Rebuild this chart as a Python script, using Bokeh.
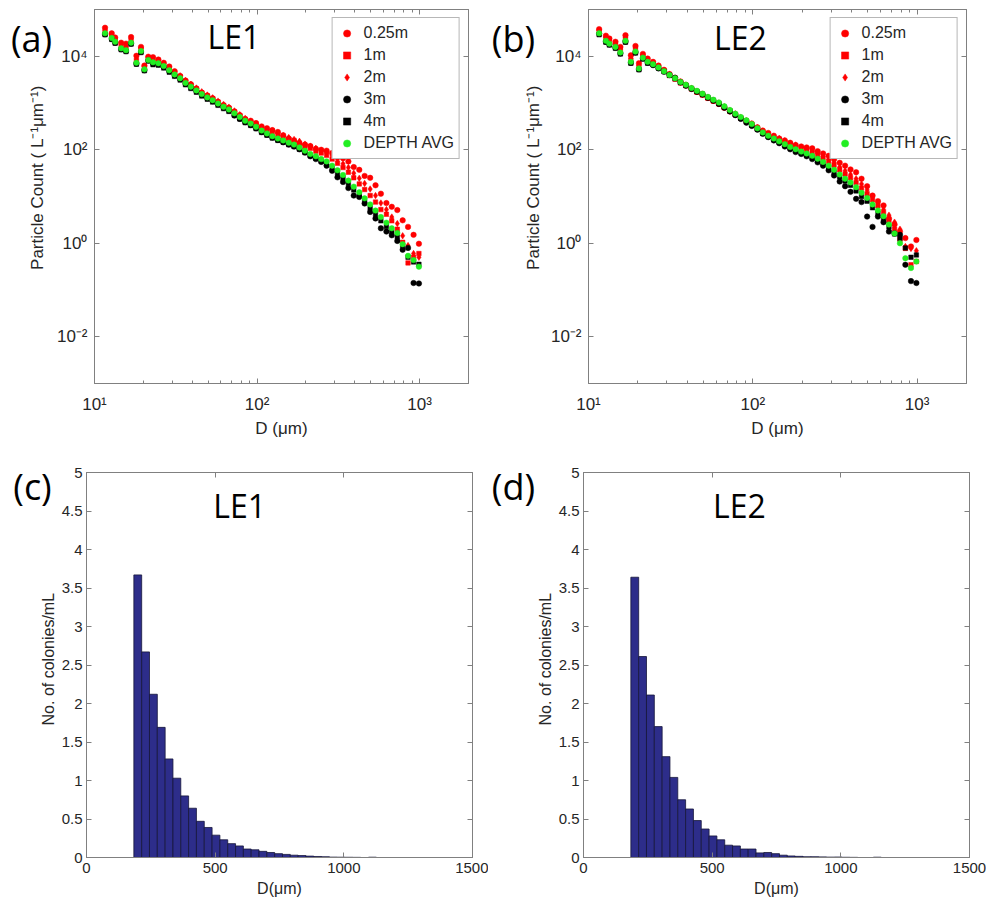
import numpy as np
from bokeh.plotting import figure
from bokeh.models import (LogAxis, LinearAxis, FixedTicker, Label, Range1d,
                          CustomJSTickFormatter)
from bokeh.layouts import column, row
from bokeh.embed import file_html
from bokeh.resources import INLINE

# ---------------- data ----------------
# particle diameter bins (um)
D_UM = [11.61, 12.76, 13.40, 14.59, 15.63, 16.79, 18.11, 19.32, 20.28, 21.43, 22.91,
        24.72, 26.67, 28.84, 31.12, 33.65, 36.31, 39.17, 42.36, 45.71, 49.43,
        53.33, 57.54, 62.23, 67.14, 72.61, 78.34, 84.53, 91.41, 98.63, 106.7,
        115.1, 124.2, 134.3, 144.9, 156.7, 169.0, 182.4, 197.2, 212.8, 230.1,
        248.3, 267.9, 289.7, 312.6, 338.1, 364.8, 393.6, 425.6, 459.2, 496.6,
        535.8, 578.1, 625.2, 674.5, 729.5, 787.0, 849.2, 918.4, 990.8]

# LE1 : log10 particle count (L^-1 um^-1)
LE1_025 = [4.61, 4.49, 4.40, 4.29, 4.27, 4.41, 4.01, 4.20, 3.80, 3.99, 3.98,
           3.93, 3.86, 3.78, 3.68, 3.58, 3.48, 3.40, 3.31, 3.22, 3.16,
           3.10, 3.02, 2.95, 2.90, 2.82, 2.74, 2.66, 2.62, 2.57, 2.50,
           2.46, 2.42, 2.38, 2.31, 2.24, 2.18, 2.13, 2.11, 2.08, 2.02,
           2.00, 1.98, 1.93, 1.88, 1.82, 1.75, 1.63, 1.57, 1.44, 1.40,
           1.24, 1.06, 0.86, 0.78, 0.71, 0.49, 0.35, 0.18, -0.01]
LE1_1 = [4.53, 4.43, 4.35, 4.21, 4.17, 4.33, 3.90, 4.15, 3.76, 3.96, 3.89,
         3.88, 3.82, 3.73, 3.64, 3.56, 3.46, 3.38, 3.30, 3.22, 3.15,
         3.09, 3.02, 2.95, 2.89, 2.81, 2.73, 2.65, 2.59, 2.53, 2.45,
         2.40, 2.36, 2.32, 2.27, 2.22, 2.20, 2.14, 2.07, 2.03, 1.97,
         1.93, 1.88, 1.80, 1.71, 1.62, 1.52, 1.40, 1.27, 1.15, 1.02,
         0.88, 0.72, 0.62, 0.48, 0.30, 0.02, -0.42, -0.30, -0.22]
LE1_2 = [4.55, 4.44, 4.37, 4.24, 4.20, 4.37, 3.95, 4.17, 3.78, 3.97, 3.92,
         3.90, 3.84, 3.75, 3.66, 3.58, 3.48, 3.40, 3.32, 3.24, 3.17,
         3.11, 3.04, 2.97, 2.91, 2.83, 2.75, 2.67, 2.61, 2.55, 2.48,
         2.43, 2.40, 2.36, 2.30, 2.26, 2.22, 2.18, 2.12, 2.07, 2.03,
         1.98, 1.94, 1.87, 1.79, 1.70, 1.62, 1.50, 1.39, 1.28, 1.16,
         1.02, 0.86, 0.72, 0.56, 0.42, 0.16, -0.05, -0.22, -0.30]
LE1_3 = [4.47, 4.37, 4.29, 4.15, 4.11, 4.27, 3.84, 4.09, 3.70, 3.91, 3.84,
         3.83, 3.77, 3.68, 3.59, 3.51, 3.41, 3.33, 3.25, 3.17, 3.10,
         3.04, 2.97, 2.90, 2.84, 2.73, 2.66, 2.59, 2.53, 2.46, 2.38,
         2.32, 2.26, 2.21, 2.16, 2.11, 2.07, 2.01, 1.94, 1.86, 1.80,
         1.74, 1.66, 1.55, 1.41, 1.31, 1.18, 1.02, 0.99, 0.85, 0.67,
         0.53, 0.32, 0.25, 0.17, 0.05, -0.14, -0.10, -0.85, -0.86]
LE1_4 = [4.46, 4.36, 4.28, 4.14, 4.10, 4.26, 3.83, 4.08, 3.69, 3.90, 3.82,
         3.81, 3.75, 3.66, 3.57, 3.49, 3.39, 3.31, 3.23, 3.15, 3.08,
         3.02, 2.95, 2.88, 2.82, 2.74, 2.66, 2.58, 2.52, 2.45, 2.37,
         2.31, 2.25, 2.20, 2.16, 2.11, 2.07, 2.01, 1.94, 1.87, 1.82,
         1.76, 1.70, 1.60, 1.50, 1.40, 1.28, 1.14, 1.02, 0.89, 0.76,
         0.62, 0.48, 0.36, 0.25, 0.14, -0.05, -0.30, -0.40, -0.45]
LE1_AVG = [4.49, 4.39, 4.31, 4.17, 4.13, 4.29, 3.86, 4.11, 3.72, 3.92, 3.87,
           3.85, 3.79, 3.70, 3.61, 3.53, 3.43, 3.35, 3.27, 3.19, 3.12,
           3.06, 2.99, 2.92, 2.86, 2.78, 2.70, 2.62, 2.56, 2.49, 2.41,
           2.35, 2.29, 2.24, 2.20, 2.15, 2.11, 2.05, 1.98, 1.91, 1.86,
           1.80, 1.75, 1.66, 1.56, 1.46, 1.34, 1.21, 1.09, 0.96, 0.83,
           0.70, 0.56, 0.44, 0.32, 0.22, -0.02, -0.27, -0.36, -0.50]

# LE2 : log10 particle count (L^-1 um^-1)
LE2_025 = [4.58, 4.44, 4.38, 4.31, 4.20, 4.45, 4.02, 4.22, 3.85, 4.05, 3.95,
           3.88, 3.80, 3.71, 3.62, 3.54, 3.46, 3.39, 3.31, 3.24, 3.18,
           3.11, 3.05, 2.98, 2.90, 2.82, 2.76, 2.68, 2.62, 2.56, 2.48,
           2.41, 2.36, 2.30, 2.24, 2.20, 2.15, 2.10, 2.07, 2.05, 2.03,
           1.97, 1.92, 1.87, 1.80, 1.72, 1.66, 1.58, 1.52, 1.38, 1.22,
           1.02, 0.90, 0.81, 0.53, 0.40, 0.25, 0.11, -0.07, 0.07]
LE2_1 = [4.53, 4.38, 4.31, 4.24, 4.12, 4.37, 3.92, 4.14, 3.77, 4.00, 3.91,
         3.84, 3.77, 3.69, 3.59, 3.51, 3.43, 3.37, 3.30, 3.23, 3.17,
         3.10, 3.04, 2.98, 2.90, 2.83, 2.75, 2.68, 2.61, 2.53, 2.45,
         2.37, 2.31, 2.26, 2.21, 2.16, 2.11, 2.06, 2.02, 1.98, 1.94,
         1.88, 1.82, 1.75, 1.67, 1.57, 1.48, 1.40, 1.30, 1.18, 1.06,
         0.93, 0.80, 0.66, 0.48, 0.30, 0.08, -0.11, -0.46, -0.39]
LE2_2 = [4.55, 4.40, 4.34, 4.27, 4.15, 4.40, 3.96, 4.18, 3.80, 4.02, 3.93,
         3.85, 3.77, 3.69, 3.61, 3.53, 3.45, 3.38, 3.31, 3.25, 3.19,
         3.12, 3.06, 3.00, 2.92, 2.84, 2.77, 2.69, 2.62, 2.55, 2.47,
         2.39, 2.33, 2.28, 2.24, 2.19, 2.14, 2.10, 2.05, 2.00, 1.97,
         1.92, 1.86, 1.80, 1.73, 1.63, 1.55, 1.47, 1.38, 1.27, 1.14,
         1.00, 0.86, 0.72, 0.60, 0.45, 0.30, -0.07, -0.11, -0.16]
LE2_3 = [4.48, 4.31, 4.25, 4.18, 4.06, 4.31, 3.86, 4.08, 3.72, 3.95, 3.86,
         3.81, 3.74, 3.67, 3.60, 3.54, 3.44, 3.37, 3.30, 3.24, 3.18,
         3.11, 3.05, 2.98, 2.90, 2.82, 2.74, 2.66, 2.58, 2.51, 2.43,
         2.34, 2.27, 2.20, 2.14, 2.07, 2.01, 1.95, 1.91, 1.86, 1.80,
         1.73, 1.66, 1.56, 1.45, 1.32, 1.22, 1.10, 0.95, 0.88, 0.57,
         0.35, 0.57, 0.45, 0.25, 0.21, 0.18, -0.46, -0.81, -0.85]
LE2_4 = [4.46, 4.30, 4.24, 4.17, 4.05, 4.30, 3.85, 4.07, 3.71, 3.94, 3.85,
         3.82, 3.75, 3.67, 3.59, 3.52, 3.44, 3.38, 3.31, 3.25, 3.19,
         3.12, 3.06, 2.99, 2.91, 2.83, 2.75, 2.68, 2.61, 2.53, 2.44,
         2.35, 2.28, 2.22, 2.16, 2.10, 2.04, 1.98, 1.93, 1.89, 1.84,
         1.77, 1.70, 1.62, 1.52, 1.42, 1.33, 1.24, 1.12, 1.00, 0.90,
         0.76, 0.64, 0.52, 0.35, 0.20, 0.10, -0.10, -0.30, -0.25]
LE2_AVG = [4.49, 4.33, 4.27, 4.20, 4.08, 4.33, 3.88, 4.10, 3.74, 3.97, 3.88,
           3.83, 3.76, 3.68, 3.60, 3.53, 3.45, 3.39, 3.32, 3.26, 3.20,
           3.13, 3.07, 3.01, 2.93, 2.85, 2.77, 2.70, 2.63, 2.55, 2.46,
           2.37, 2.30, 2.24, 2.18, 2.12, 2.06, 2.01, 1.96, 1.92, 1.87,
           1.81, 1.74, 1.66, 1.57, 1.47, 1.38, 1.30, 1.20, 1.08, 0.97,
           0.83, 0.70, 0.58, 0.40, 0.21, 0.0, -0.32, -0.53, -0.39]

DEPTH_LABELS = ["0.25m", "1m", "2m", "3m", "4m", "DEPTH AVG"]

# colony-size histogram bin edges (um) and colonies/mL
HIST_EDGES = [184.0, 214.4, 244.8, 275.2, 305.6, 336.0, 366.4, 396.8, 427.2, 457.6,
              488.0, 518.4, 548.8, 579.2, 609.6, 640.0, 670.4, 700.8, 731.2, 761.6,
              792.0, 822.4, 852.8, 883.2, 913.6, 944.0, 974.4, 1004.8, 1035.2, 1065.6,
              1096.0, 1126.4, 1156.8]
HIST_LE1 = [3.67, 2.67, 2.12, 1.69, 1.28, 1.03, 0.80, 0.64, 0.47, 0.39,
            0.29, 0.23, 0.18, 0.15, 0.11, 0.10, 0.08, 0.065, 0.05, 0.04,
            0.03, 0.025, 0.018, 0.013, 0.01, 0.005, 0.004, 0.003, 0.002, 0.0,
            0.004, 0.0]
HIST_LE2 = [3.64, 2.61, 2.11, 1.70, 1.31, 1.04, 0.75, 0.63, 0.48, 0.37,
            0.28, 0.23, 0.16, 0.15, 0.11, 0.11, 0.06, 0.065, 0.05, 0.03,
            0.02, 0.015, 0.01, 0.01, 0.008, 0.005, 0.006, 0.003, 0.002, 0.0,
            0.0, 0.004]

Y_LABEL_PSD = "Particle Count ( L\u207b\u00b9\u03bcm\u207b\u00b9)"
Y_LABEL_HIST = "No. of colonies/mL"

# ---------------- styling ----------------
FONT = "Liberation Sans"
BIG = "Open Sans"
AXC = "#808080"
TXC = "#262626"
RED, BLACK, GREEN = "#ff0000", "#000000", "#22ee22"
STYLES = [("circle", RED, 5.5), ("square", RED, 4.5), ("diamond", RED, 6.5),
          ("circle", BLACK, 5.5), ("square", BLACK, 4.5), ("circle", GREEN, 5.5)]

LOG_FMT = CustomJSTickFormatter(code="""
const e = Math.round(Math.log10(tick));
const sup = {'-':'\u207b','0':'\u2070','1':'\u00b9','2':'\u00b2','3':'\u00b3','4':'\u2074','5':'\u2075'};
return '10' + String(e).split('').map(c => sup[c]).join('');
""")
BLANK_FMT = CustomJSTickFormatter(code="return '';")
PLAIN_FMT = CustomJSTickFormatter(code="return String(tick);")


def style_axis(ax, label_size, standoff):
    ax.axis_line_color = AXC
    ax.major_tick_line_color = AXC
    ax.minor_tick_line_color = AXC
    ax.major_tick_in = 5
    ax.major_tick_out = 0
    ax.minor_tick_in = 3
    ax.minor_tick_out = 0
    ax.major_label_text_font = FONT
    ax.major_label_text_color = TXC
    ax.major_label_text_font_size = label_size
    ax.major_label_standoff = standoff
    ax.axis_label_text_font = FONT
    ax.axis_label_text_font_style = "normal"
    ax.axis_label_text_color = TXC
    ax.axis_label_standoff = 2


def base_fig(width, height, left, right, top, bottom, **kw):
    p = figure(width=width, height=height, output_backend="svg", toolbar_location=None,
               min_border_left=left, min_border_right=right,
               min_border_top=top, min_border_bottom=bottom, **kw)
    p.xgrid.visible = False
    p.ygrid.visible = False
    p.outline_line_color = AXC
    p.background_fill_color = "white"
    p.border_fill_color = "white"
    return p


def strip(width, height, tag, tag_x, tag_y, ylab, ylab_x, ylab_y, ylab_size):
    """Narrow text strip left of a panel: panel tag and the y-axis title."""
    s = figure(width=width, height=height, output_backend="svg", toolbar_location=None,
               x_range=Range1d(0, width), y_range=Range1d(0, height),
               x_axis_location=None, y_axis_location=None,
               min_border_left=0, min_border_right=0, min_border_top=0, min_border_bottom=0)
    s.xgrid.visible = False
    s.ygrid.visible = False
    s.outline_line_color = None
    s.background_fill_color = "white"
    s.border_fill_color = "white"
    s.add_layout(Label(x=tag_x, y=height - tag_y, text=tag, text_font=BIG,
                       text_font_size="36px", text_align="center",
                       text_baseline="middle", text_color="black"))
    s.add_layout(Label(x=ylab_x, y=height - ylab_y, text=ylab, text_font=FONT,
                       text_font_size=ylab_size, text_align="center",
                       text_baseline="middle", text_color=TXC, angle=np.pi / 2))
    return s


X_MAJ = [10, 100, 1000]
X_MIN = [20, 30, 40, 50, 60, 70, 80, 90, 200, 300, 400, 500, 600, 700, 800, 900, 2000]
Y_MAJ = [1e-2, 1, 1e2, 1e4]
TOP_H = 440
BOT_H = 463


def scatter_panel(series, name, width, left, right, name_x, name_y):
    p = base_fig(width, TOP_H, left, right, 9, 53,
                 x_axis_type="log", y_axis_type="log",
                 x_range=Range1d(10, 2000), y_range=Range1d(1e-3, 1e5))
    d = np.array(D_UM)
    for lab, vals, (mk, col, sz) in zip(DEPTH_LABELS, series, STYLES):
        p.scatter(d, 10 ** np.array(vals), marker=mk, size=sz, fill_color=col,
                  line_color=col, line_width=0.5, legend_label=lab)
    p.xaxis.ticker = FixedTicker(ticks=X_MAJ, minor_ticks=X_MIN)
    p.yaxis.ticker = FixedTicker(ticks=Y_MAJ, minor_ticks=[])
    p.xaxis.formatter = LOG_FMT
    p.yaxis.formatter = LOG_FMT
    p.xaxis.axis_label = "D (\u03bcm)"
    style_axis(p.xaxis[0], "17px", 11)
    style_axis(p.yaxis[0], "17px", 7)
    p.xaxis.axis_label_text_font_size = "17px"
    top = LogAxis(ticker=FixedTicker(ticks=X_MAJ, minor_ticks=X_MIN), formatter=BLANK_FMT)
    rgt = LogAxis(ticker=FixedTicker(ticks=Y_MAJ, minor_ticks=[]), formatter=BLANK_FMT)
    for ax in (top, rgt):
        style_axis(ax, "0px", 0)
    p.add_layout(top, "above")
    p.add_layout(rgt, "right")

    lg = p.legend[0]
    lg.location = "top_right"
    lg.margin = 8
    lg.padding = 5
    lg.spacing = 2
    lg.glyph_width = 18
    lg.glyph_height = 20
    lg.label_height = 20
    lg.label_standoff = 8
    lg.label_text_font = FONT
    lg.label_text_font_size = "16px"
    lg.label_text_color = TXC
    lg.border_line_color = "#707070"
    lg.border_line_width = 1
    lg.background_fill_alpha = 1.0

    p.add_layout(Label(x=name_x, y=name_y, text=name, text_font=BIG, text_font_size="32px",
                       text_align="center", text_baseline="middle", text_color="black"))
    return p


def hist_panel(heights, name, width, left, right, name_x):
    p = base_fig(width, BOT_H, left, right, 32, 46,
                 x_range=Range1d(0, 1500), y_range=Range1d(0, 5))
    e = np.array(HIST_EDGES)
    p.quad(left=e[:-1], right=e[1:], bottom=0, top=heights,
           fill_color="#2d2d8a", line_color="#15153a", line_width=0.8)
    xt = [0, 500, 1000, 1500]
    yt = [0, 0.5, 1, 1.5, 2, 2.5, 3, 3.5, 4, 4.5, 5]
    p.xaxis.ticker = FixedTicker(ticks=xt, minor_ticks=[])
    p.yaxis.ticker = FixedTicker(ticks=yt, minor_ticks=[])
    p.xaxis.formatter = PLAIN_FMT
    p.yaxis.formatter = PLAIN_FMT
    p.xaxis.axis_label = "D(\u03bcm)"
    style_axis(p.xaxis[0], "15px", 5)
    style_axis(p.yaxis[0], "15px", 4)
    p.xaxis.axis_label_text_font_size = "16px"
    p.xaxis.axis_label_standoff = 4
    top = LinearAxis(ticker=FixedTicker(ticks=xt, minor_ticks=[]), formatter=BLANK_FMT)
    rgt = LinearAxis(ticker=FixedTicker(ticks=yt, minor_ticks=[]), formatter=BLANK_FMT)
    for ax in (top, rgt):
        style_axis(ax, "0px", 0)
    p.add_layout(top, "above")
    p.add_layout(rgt, "right")
    p.add_layout(Label(x=name_x, y=4.57, text=name, text_font=BIG, text_font_size="32px",
                       text_align="center", text_baseline="middle", text_color="black"))
    return p


sa = strip(53, TOP_H, "(a)", 31, 34, Y_LABEL_PSD, 37, 198, "17px")
pa = scatter_panel([LE1_025, LE1_1, LE1_2, LE1_3, LE1_4, LE1_AVG], "LE1",
                   435, 39, 20, 72.0, 26800)
sb = strip(57, TOP_H, "(b)", 25, 34, Y_LABEL_PSD, 45, 198, "17px")
pb = scatter_panel([LE2_025, LE2_1, LE2_2, LE2_3, LE2_4, LE2_AVG], "LE2",
                   441, 43, 20, 84.0, 25700)

sc = strip(58, BOT_H, "(c)", 32, 17, Y_LABEL_HIST, 48, 224.5, "16px")
pc = hist_panel(HIST_LE1, "LE1", 430, 28, 16, 595)
sd = strip(67, BOT_H, "(d)", 25, 17, Y_LABEL_HIST, 57, 224.5, "16px")
pd = hist_panel(HIST_LE2, "LE2", 431, 28, 17, 606)

layout = column(row(sa, pa, sb, pb), row(sc, pc, sd, pd))
open("out.html", "w").write(file_html(layout, INLINE))
